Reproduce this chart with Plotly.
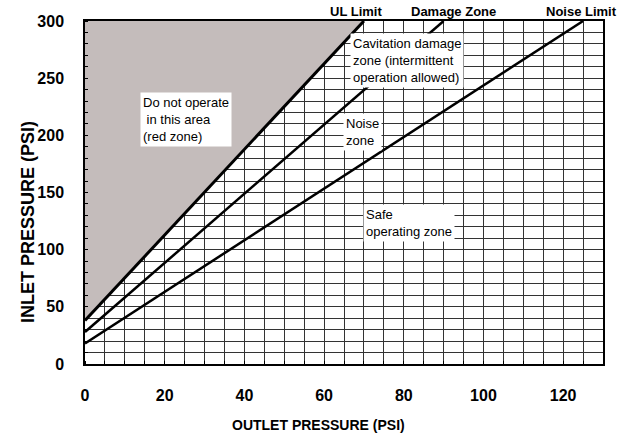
import plotly.graph_objects as go

# Data
ul_outlet = [0, 70]
ul_inlet = [38, 300]
damage_outlet = [0, 90]
damage_inlet = [28, 300]
noise_outlet = [0, 125]
noise_inlet = [18, 300]

x_range = [0, 130]
y_range = [0, 300]
x_ticks = [0, 20, 40, 60, 80, 100, 120]
y_ticks = [0, 50, 100, 150, 200, 250, 300]

FONT = "Liberation Sans, Arial, sans-serif"

fig = go.Figure()

# grey "do not operate" region above UL line
fig.add_trace(go.Scatter(
    x=[ul_outlet[0], ul_outlet[-1], ul_outlet[0]],
    y=[ul_inlet[0], ul_inlet[-1], y_range[1]],
    fill="toself", fillcolor="#c4bcbb", mode="none", hoverinfo="skip",
    showlegend=False))

for xs, ys, w in [(ul_outlet, ul_inlet, 3), (damage_outlet, damage_inlet, 2.5),
                  (noise_outlet, noise_inlet, 2.5)]:
    fig.add_trace(go.Scatter(x=xs, y=ys, mode="lines",
                             line=dict(color="black", width=w),
                             showlegend=False, hoverinfo="skip"))

grid = "#333333"
fig.update_xaxes(range=x_range, tickvals=x_ticks, showgrid=True, gridcolor=grid,
                 gridwidth=1, showline=True, linecolor="black", linewidth=1.5,
                 mirror=True, zeroline=False, ticks="", automargin=False,
                 tickfont=dict(family=FONT, size=16, color="black", weight="bold"),
                 ticklabelstandoff=16,
                 minor=dict(dtick=5, showgrid=True, gridcolor=grid, gridwidth=1,
                            ticks="inside", ticklen=3, tickcolor="black"))
fig.update_yaxes(range=y_range, tickvals=y_ticks, showgrid=True, gridcolor=grid,
                 gridwidth=1, showline=True, linecolor="black", linewidth=1.5,
                 mirror=True, zeroline=False, ticks="", automargin=False,
                 tickfont=dict(family=FONT, size=16, color="black", weight="bold"),
                 ticklabelstandoff=16,
                 minor=dict(dtick=10, showgrid=True, gridcolor=grid, gridwidth=1,
                            ticks="inside", ticklen=3, tickcolor="black"))

annots = []
# axis titles
annots.append(dict(text="OUTLET PRESSURE (PSI)", xref="paper", yref="paper",
                   x=0.45, y=-0.178, showarrow=False, xanchor="center", yanchor="middle",
                   font=dict(family=FONT, size=14, color="black", weight="bold")))
annots.append(dict(text="INLET PRESSURE (PSI)", xref="paper", yref="paper",
                   x=-0.110, y=0.414, showarrow=False, textangle=-90,
                   xanchor="center", yanchor="middle",
                   font=dict(family=FONT, size=18, color="black", weight="bold")))
# line labels above plot
for txt, xv in [("UL Limit", 68), ("Damage Zone", 92.5), ("Noise Limit", 124.5)]:
    annots.append(dict(text=txt, x=xv, y=1.027, xref="x", yref="paper", showarrow=False,
                       xanchor="center", yanchor="middle",
                       font=dict(family=FONT, size=13, color="black", weight="bold")))
# zone notes
notes = [
    ("Do not operate<br> in this area<br>(red zone)", 25.4, 214),
    ("Cavitation damage<br>zone (intermittent<br>operation allowed)", 80.9, 265.5),
    ("Noise<br>zone", 69.7, 202.5),
    ("Safe<br>operating zone", 81.4, 123),
]
for txt, xv, yv in notes:
    annots.append(dict(text=txt, x=xv, y=yv, xref="x", yref="y", showarrow=False,
                       xanchor="center", yanchor="middle", align="left",
                       bgcolor="white", borderpad=2,
                       font=dict(family=FONT, size=13, color="black")))

fig.update_layout(
    width=628, height=436,
    margin=dict(l=85, r=25, t=21, b=72, autoexpand=False),
    paper_bgcolor="white", plot_bgcolor="white",
    annotations=annots, showlegend=False,
)

fig.write_html("out.html", config={"displayModeBar": False},
               post_script="document.body.style.margin='0';"
                           "document.body.style.overflow='hidden';")
